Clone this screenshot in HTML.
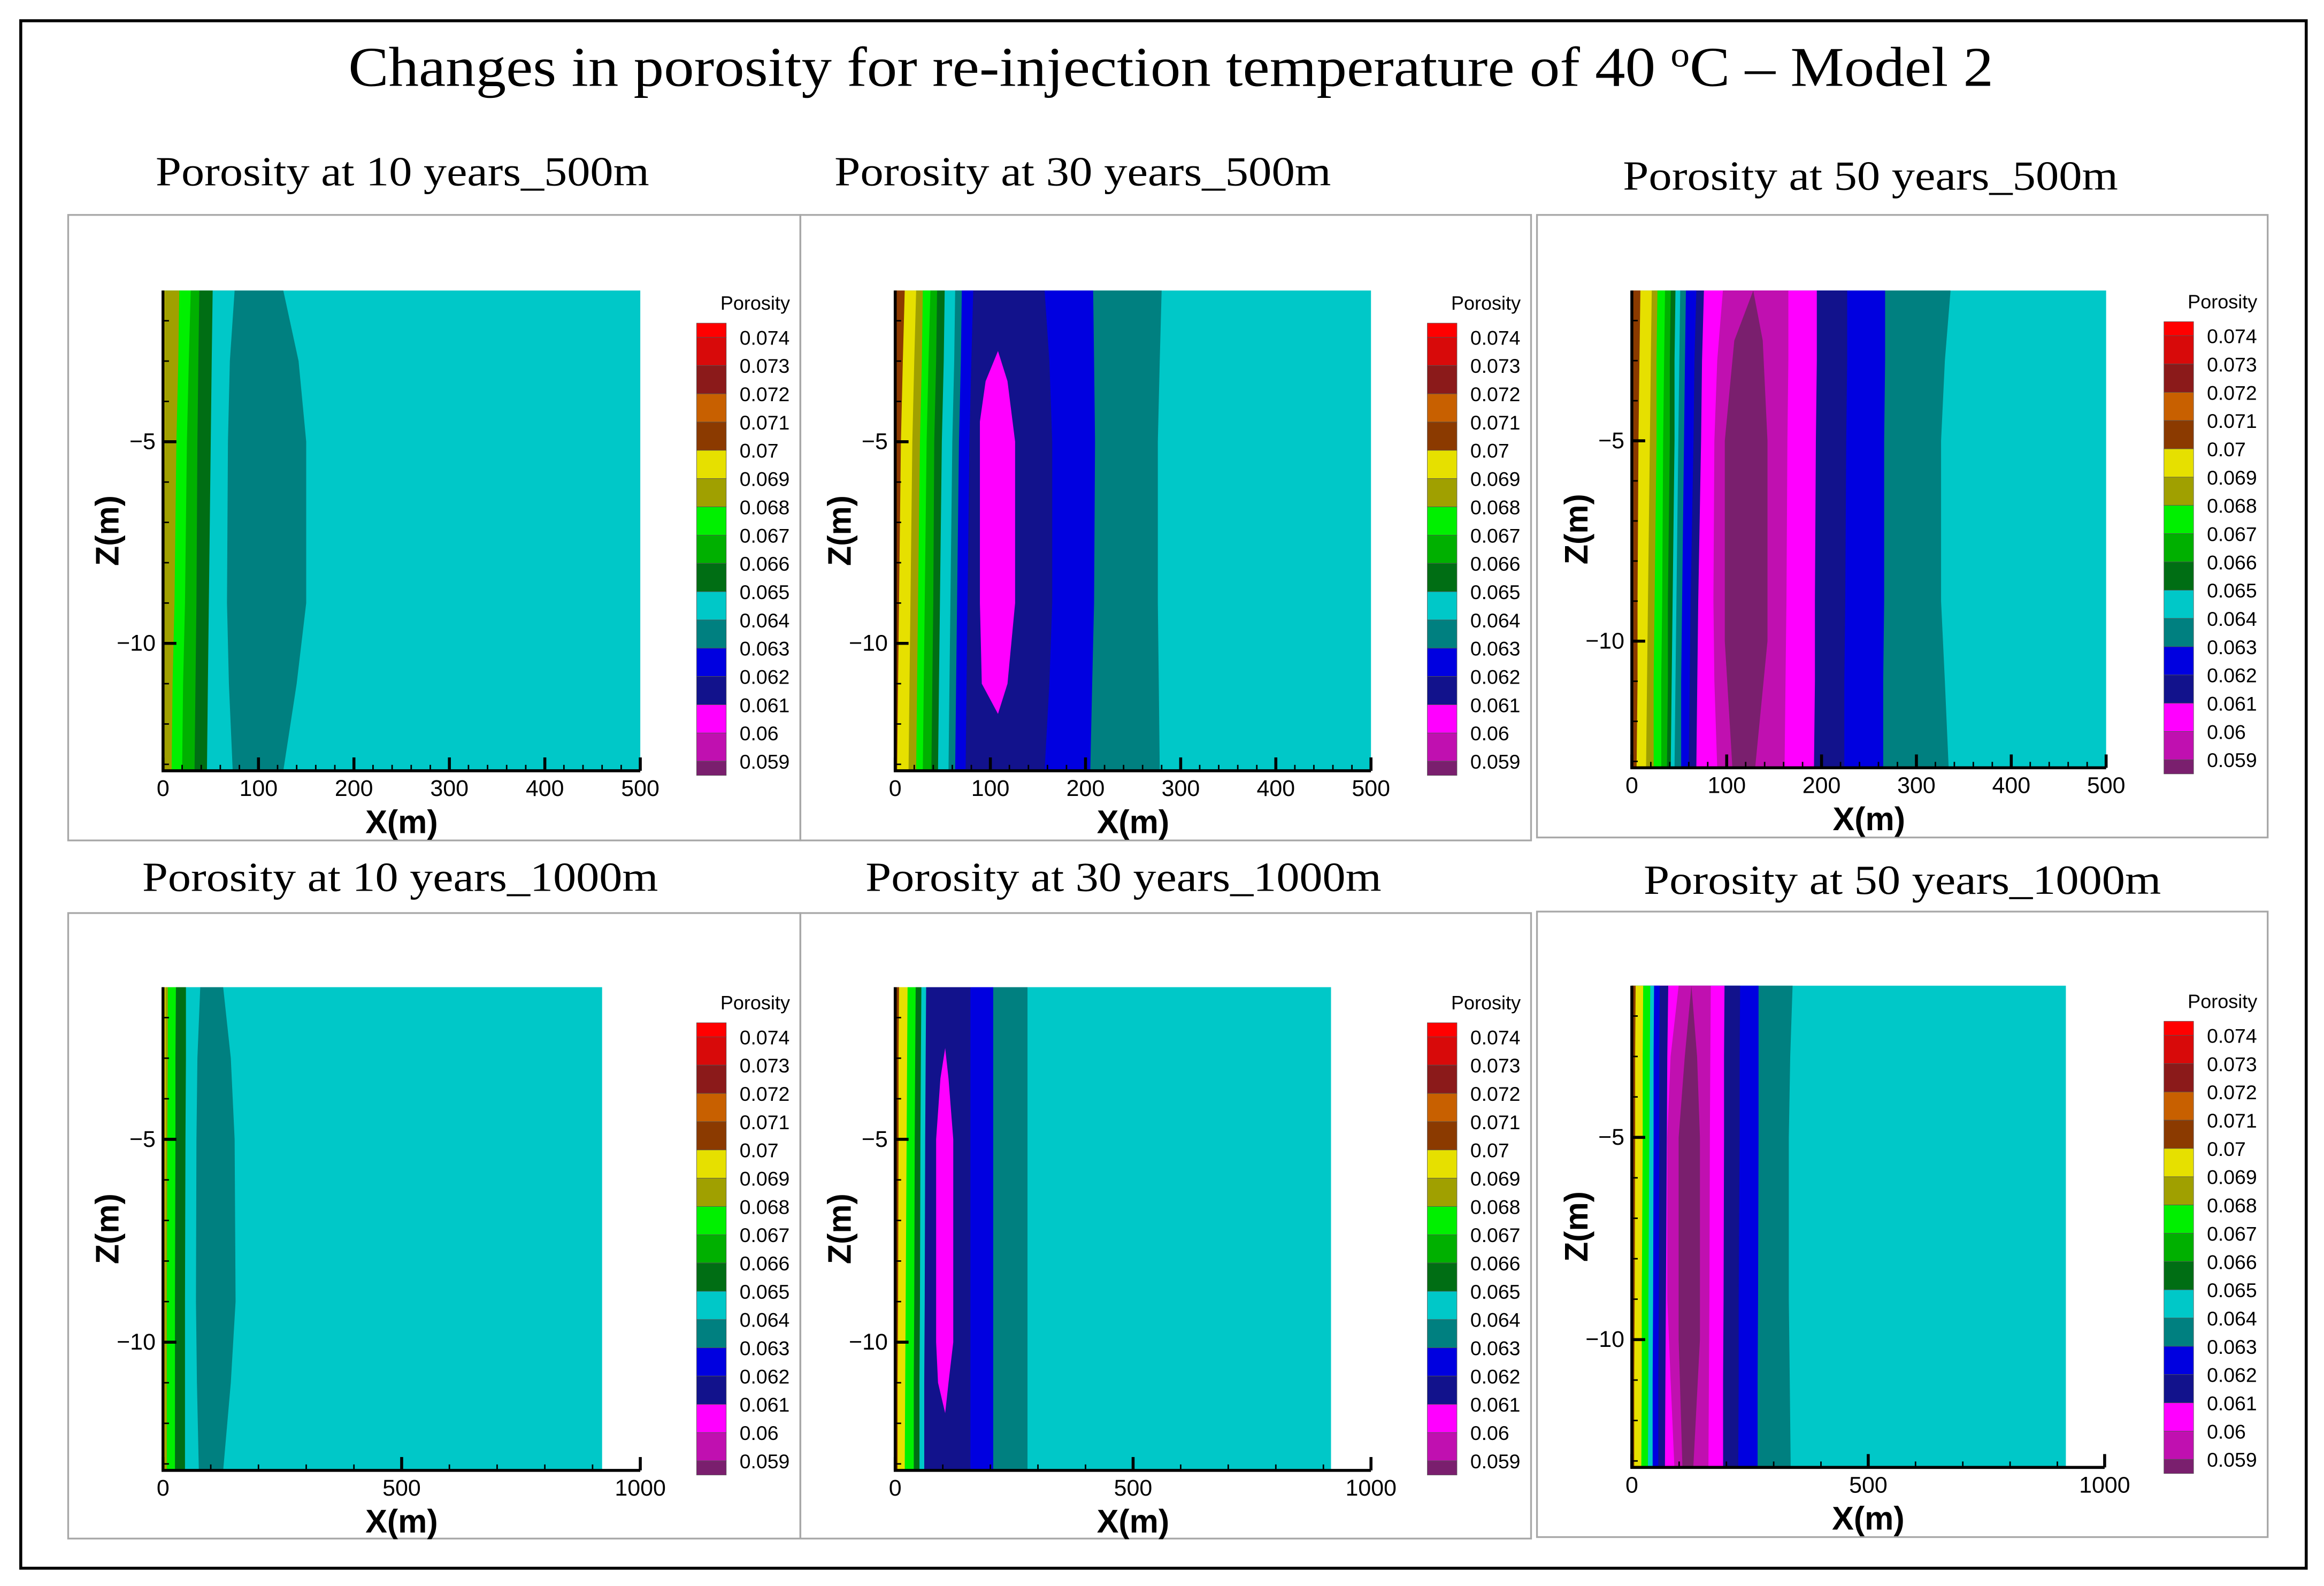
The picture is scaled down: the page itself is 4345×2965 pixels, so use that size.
<!DOCTYPE html>
<html><head><meta charset="utf-8"><style>
html,body{margin:0;padding:0;background:#fff;}
svg{display:block;}
</style></head><body>
<svg id="fig" width="4345" height="2965" viewBox="0 0 1568 1070" preserveAspectRatio="none" xmlns="http://www.w3.org/2000/svg">
<rect x="14" y="14" width="1542" height="1044" fill="#fff" stroke="#000" stroke-width="2"/>
<text x="235" y="58" textLength="1110" lengthAdjust="spacingAndGlyphs" font-family="Liberation Serif, serif" font-size="38">Changes in porosity for re-injection temperature of 40 <tspan font-size="24" dy="-13">o</tspan><tspan dy="13">C – Model 2</tspan></text>
<g id="panels"></g>
</svg>
<script>
// colour levels (index 0 = lowest)
const levelColors = ["#7a1f6e","#c010b0","#ff00ff","#12128c","#0000e0","#008080","#00c8c8","#006e14","#00b000","#00f000","#a0a000","#e6e000","#8b3a00","#c86000","#8b1a1a","#d80a0a","#ff0000"];
const legendLabels = ["0.074","0.073","0.072","0.071","0.07","0.069","0.068","0.067","0.066","0.065","0.064","0.063","0.062","0.061","0.06","0.059"];
const zSamples = [-1.25,-3,-5,-9,-11,-13.16];
const panelTitles = ["Porosity at 10 years_500m","Porosity at 30 years_500m","Porosity at 50 years_500m","Porosity at 10 years_1000m","Porosity at 30 years_1000m","Porosity at 50 years_1000m"];
const xTicksShort = [0,100,200,300,400,500];
const xTicksLong = [0,500,1000];
const yTicks = [-5,-10];
// bands: [level, right boundary (m) at each zSample]
const bands1 = [[11,[2,2,2,1,1,1]],[10,[17,16,14,12,10,9]],[9,[29,27,25,23,21,20]],[8,[38,37,36,35,34,33]],[7,[52,51,50,48,47,46]],[6,[75,70,68,67,69,73]],[5,[126,142,150,150,140,126]],[6,[500,500,500,500,500,500]]];
const bands2 = [[12,[10,8,6,4,3,2]],[11,[22,20,18,16,15,14]],[10,[29,28,26,24,23,22]],[9,[37,35,33,31,30,29]],[8,[44,43,41,40,39,38]],[7,[52,51,49,47,46,45]],[6,[63,62,60,58,57,56]],[5,[70,69,67,65,64,63]],[4,[82,80,78,76,75,74]],[3,[157,162,165,165,162,157]],[4,[208,209,210,209,207,205]],[5,[280,278,276,276,277,278]],[6,[500,500,500,500,500,500]]];
const bands3 = [[12,[9,8,7,6,6,5]],[11,[21,20,19,17,16,15]],[10,[27,26,26,24,23,23]],[9,[35,34,33,32,31,31]],[8,[41,40,40,38,38,37]],[7,[46,45,45,43,42,41]],[6,[51,50,49,47,46,45]],[5,[57,56,55,53,52,52]],[4,[68,66,65,62,61,60]],[3,[76,74,73,70,69,68]],[2,[96,90,87,86,87,90]],[1,[165,165,164,163,162,161]],[2,[195,195,194,193,193,192]],[3,[227,227,226,225,224,224]],[4,[267,267,266,266,265,265]],[5,[336,330,326,326,330,334]],[6,[500,500,500,500,500,500]]];
const bands4 = [[11,[5,5,5,4,4,4]],[10,[10,10,9,8,8,8]],[9,[27,26,26,25,25,25]],[7,[48,48,47,46,46,46]],[6,[78,72,70,69,71,75]],[5,[126,142,150,152,142,126]],[6,[920,920,920,920,920,920]]];
const bands5 = [[12,[8,7,7,6,5,5]],[11,[26,25,24,22,21,20]],[9,[43,42,41,40,39,39]],[7,[55,54,53,52,51,51]],[6,[65,64,63,62,61,61]],[3,[158,158,158,158,158,158]],[4,[206,206,206,206,206,206]],[5,[278,278,278,278,278,278]],[6,[916,916,916,916,916,916]]];
const bands6 = [[12,[8,7,7,6,5,5]],[11,[24,23,23,21,21,20]],[9,[39,38,37,35,35,34]],[6,[47,46,46,45,44,44]],[4,[59,58,58,57,56,56]],[3,[77,75,74,72,71,70]],[2,[99,82,75,75,82,90]],[1,[167,166,165,164,163,162]],[2,[196,195,195,194,193,193]],[3,[229,228,228,226,226,225]],[4,[268,268,268,267,266,266]],[5,[340,335,332,332,334,336]],[6,[918,918,918,918,918,918]]];
// lens regions: level + outline points [x(m), z(m)]
const lens2 = [2,[[108,-2.75],[118,-3.5],[126,-5],[126,-9],[118,-11],[108,-11.75],[91,-11],[89,-9],[89,-4.5],[95,-3.5]]];
const lens3 = [0,[[128,-1.25],[138,-2.5],[143,-5],[143,-10],[130,-13.16],[106,-13.16],[98,-10],[98,-5],[108,-2.5]]];
const lens5 = [2,[[105,-2.75],[112,-3.5],[122,-5],[122,-10],[112,-11],[105,-11.75],[90,-11],[86,-10],[86,-5],[95,-3.5]]];
const lens6 = [0,[[126,-1.25],[138,-3],[144,-5],[144,-10],[130,-13.16],[107,-13.16],[99,-10],[99,-5],[112,-3]]];

const panels = [
 {box:[46,145,494,422], title:[105,125,333], plot:[110,196,432,520], xmax:500, ticks:xTicksShort, minor:20, cb:[470,218], bands:bands1, lens:null},
 {box:[540,145,493,422], title:[563,125,335], plot:[604,196,925,520], xmax:500, ticks:xTicksShort, minor:20, cb:[963,218], bands:bands2, lens:lens2},
 {box:[1037,145,493,420], title:[1095,128,334], plot:[1101,196,1421,518], xmax:500, ticks:xTicksShort, minor:20, cb:[1460,217], bands:bands3, lens:lens3},
 {box:[46,616,494,422], title:[96,601,348], plot:[110,666,432,992], xmax:1000, ticks:xTicksLong, minor:100, cb:[470,690], bands:bands4, lens:null},
 {box:[540,616,493,422], title:[584,601,348], plot:[604,666,925,992], xmax:1000, ticks:xTicksLong, minor:100, cb:[963,690], bands:bands5, lens:lens5},
 {box:[1037,615,493,422], title:[1109,603,349], plot:[1101,665,1420,990], xmax:1000, ticks:xTicksLong, minor:100, cb:[1460,689], bands:bands6, lens:null}
];
panels[5].lens = lens6;

const NS="http://www.w3.org/2000/svg";
const root=document.getElementById('panels');
function mk(tag,attrs,parent){const e=document.createElementNS(NS,tag);for(const k in attrs)e.setAttribute(k,attrs[k]);parent.appendChild(e);return e;}
const Z0=-1.25, Z1=-13.16;

panels.forEach((p,pi)=>{
  const g=mk('g',{},root);
  
  
  const [x0,y0,x1,y1]=p.plot;
  const sx=v=>x0+(v/p.xmax)*(x1-x0);
  const sy=z=>y0+(Z0-z)/(Z0-Z1)*(y1-y0);
  const box=mk('rect',{x:p.box[0],y:p.box[1],width:p.box[2],height:p.box[3],fill:'none',stroke:'#a8a8a8','stroke-width':1.2},g);
  
  
  const t=mk('text',{x:p.title[0],y:p.title[1],textLength:p.title[2],lengthAdjust:'spacingAndGlyphs','font-family':'Liberation Serif, serif','font-size':28},g);
  t.textContent=panelTitles[pi];
  
  
  for(let i=p.bands.length-1;i>=0;i--){
    const [lv,xs]=p.bands[i];
    let pts=[[sx(0),sy(zSamples[0])]];
    for(let k=0;k<zSamples.length;k++)pts.push([sx(xs[k]),sy(zSamples[k])]);
    pts.push([sx(0),sy(zSamples[zSamples.length-1])]);
    const poly=mk('polygon',{points:pts.map(q=>q.join(',')).join(' '),fill:levelColors[lv]},g);
    
    
  }
  if(p.lens){
    const poly=mk('polygon',{points:p.lens[1].map(q=>sx(q[0])+','+sy(q[1])).join(' '),fill:levelColors[p.lens[0]]},g);
    
    
  }
  const ax=mk('path',{d:`M${x0},${y0} L${x0},${y1} L${x1},${y1}`,fill:'none',stroke:'#000','stroke-width':2},g);
  
  
  for(let v=0;v<=p.xmax+1e-6;v+=p.minor){
    const major=p.ticks.includes(v);
    mk('line',{x1:sx(v),x2:sx(v),y1:y1,y2:y1-(major?9:4),stroke:'#000','stroke-width':major?2:1},g);
  }
  p.ticks.forEach(v=>{
    const tl=mk('text',{x:sx(v),y:y1+17,'text-anchor':'middle','font-family':'Liberation Sans, sans-serif','font-size':15.5},g);
    tl.textContent=v;
    
    
  });
  for(let z=-2;z>=-13;z--){
    const major=yTicks.includes(z);
    mk('line',{x1:x0,x2:x0+(major?9:4),y1:sy(z),y2:sy(z),stroke:'#000','stroke-width':major?2:1},g);
  }
  yTicks.forEach(z=>{
    const tl=mk('text',{x:x0-5,y:sy(z)+5,'text-anchor':'end','font-family':'Liberation Sans, sans-serif','font-size':15.5},g);
    tl.textContent='\u2212'+Math.abs(z);
    
    
  });
  const xt=mk('text',{x:(x0+x1)/2,y:y1+42,'text-anchor':'middle','font-family':'Liberation Sans, sans-serif','font-size':22,'font-weight':'bold'},g);
  xt.textContent='X(m)';
  
  
  const yc=(y0+y1)/2;
  const yt=mk('text',{x:x0-30,y:yc,'text-anchor':'middle','font-family':'Liberation Sans, sans-serif','font-size':22,'font-weight':'bold',transform:`rotate(-90 ${x0-30} ${yc})`},g);
  yt.textContent='Z(m)';
  
  
  const [cx,cy]=p.cb; const step=19.07;
  const lg=mk('g',{},g);
  
  
  const pt=mk('text',{x:cx+63,y:cy-9,'text-anchor':'end','font-family':'Liberation Sans, sans-serif','font-size':13},lg);
  pt.textContent='Porosity';
  
  
  for(let i=0;i<17;i++){
    const lv=16-i;
    const top=i===0?cy:cy+step/2+(i-1)*step;
    const h=(i===0||i===16)?step/2:step;
    const r=mk('rect',{x:cx,y:top,width:20,height:h,fill:levelColors[lv],stroke:'#555','stroke-width':0.3},lg);
    
    
  }
  legendLabels.forEach((s,i)=>{
    const tl=mk('text',{x:cx+29,y:cy+step/2+i*step+5,'font-family':'Liberation Sans, sans-serif','font-size':13.5},lg);
    tl.textContent=s;
    
    
  });
});
</script>
</body></html>
